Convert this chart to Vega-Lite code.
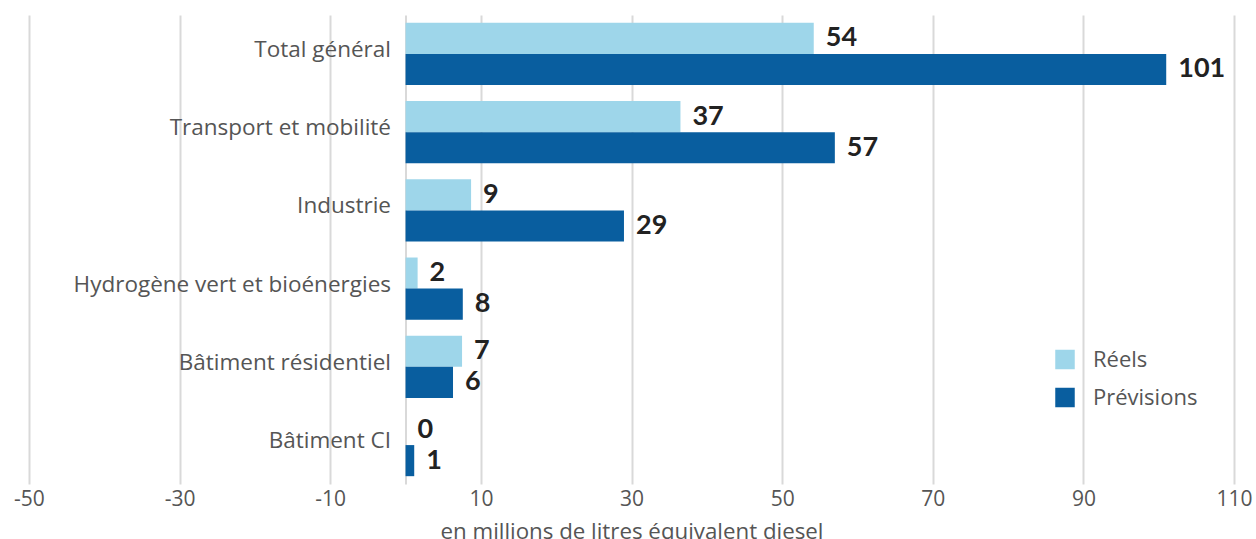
{
  "$schema": "https://vega.github.io/schema/vega-lite/v6.json",
  "autosize": "none",
  "width": 1205,
  "height": 469,
  "padding": {"left": 29, "top": 15, "right": 22, "bottom": 55},
  "background": "white",
  "config": {
    "view": {"stroke": null},
    "font": "Open Sans",
    "axis": {"labelFont": "Open Sans", "titleFont": "Open Sans"},
    "legend": {"labelFont": "Open Sans"}
  },
  "data": {
    "values": [
      {"cat": "Total général", "series": "Réels", "value": 54.2, "label": "54"},
      {"cat": "Total général", "series": "Prévisions", "value": 101.0, "label": "101"},
      {"cat": "Transport et mobilité", "series": "Réels", "value": 36.5, "label": "37"},
      {"cat": "Transport et mobilité", "series": "Prévisions", "value": 57.0, "label": "57"},
      {"cat": "Industrie", "series": "Réels", "value": 8.7, "label": "9"},
      {"cat": "Industrie", "series": "Prévisions", "value": 29.0, "label": "29"},
      {"cat": "Hydrogène vert et bioénergies", "series": "Réels", "value": 1.6, "label": "2"},
      {"cat": "Hydrogène vert et bioénergies", "series": "Prévisions", "value": 7.6, "label": "8"},
      {"cat": "Bâtiment résidentiel", "series": "Réels", "value": 7.5, "label": "7"},
      {"cat": "Bâtiment résidentiel", "series": "Prévisions", "value": 6.3, "label": "6"},
      {"cat": "Bâtiment CI", "series": "Réels", "value": 0.0, "label": "0"},
      {"cat": "Bâtiment CI", "series": "Prévisions", "value": 1.15, "label": "1"}
    ]
  },
  "encoding": {
    "y": {
      "field": "cat",
      "type": "nominal",
      "sort": ["Total général", "Transport et mobilité", "Industrie", "Hydrogène vert et bioénergies", "Bâtiment résidentiel", "Bâtiment CI"],
      "scale": {"paddingInner": 0.205, "paddingOuter": 0.1},
      "axis": {
        "title": null,
        "orient": "left",
        "offset": -376.5,
        "ticks": false,
        "domain": true,
        "domainColor": "#d9d9d9",
        "domainWidth": 2,
        "labelFontSize": 22.5,
        "labelColor": "#555555",
        "labelPadding": 15,
        "labelOffset": -4,
        "labelLimit": 400
      }
    },
    "yOffset": {
      "field": "series",
      "type": "nominal",
      "sort": ["Réels", "Prévisions"],
      "scale": {"paddingInner": 0, "paddingOuter": 0}
    },
    "x": {
      "field": "value",
      "type": "quantitative",
      "scale": {"domain": [-50, 110], "nice": false, "zero": false},
      "axis": {
        "values": [-50, -30, -10, 10, 30, 50, 70, 90, 110],
        "labelExpr": "replace(datum.label, '−', '-')",
        "labelFlush": false,
        "title": "en millions de litres équivalent diesel",
        "titleFontSize": 22.3,
        "titleFontWeight": "normal",
        "titleColor": "#555555",
        "titlePadding": 11,
        "labelFontSize": 21,
        "labelColor": "#555555",
        "labelPadding": 4,
        "ticks": false,
        "domain": false,
        "grid": true,
        "gridColor": "#d9d9d9",
        "gridWidth": 2
      }
    }
  },
  "layer": [
    {
      "mark": {"type": "bar"},
      "encoding": {
        "color": {
          "field": "series",
          "type": "nominal",
          "sort": ["Réels", "Prévisions"],
          "scale": {"domain": ["Réels", "Prévisions"], "range": ["#9ed6ea", "#095e9f"]},
          "legend": {
            "title": null,
            "orient": "none",
            "legendX": 1025,
            "legendY": 333.5,
            "symbolType": "square",
            "symbolSize": 380,
            "symbolStrokeWidth": 0,
            "labelFontSize": 22,
            "labelColor": "#555555",
            "labelOffset": 17,
            "rowPadding": 16
          }
        }
      }
    },
    {
      "mark": {"type": "text", "align": "left", "baseline": "middle", "dx": 12, "font": "Lato", "fontSize": 27, "fontWeight": "bold", "color": "#222222"},
      "encoding": {
        "text": {"field": "label"}
      }
    }
  ]
}
